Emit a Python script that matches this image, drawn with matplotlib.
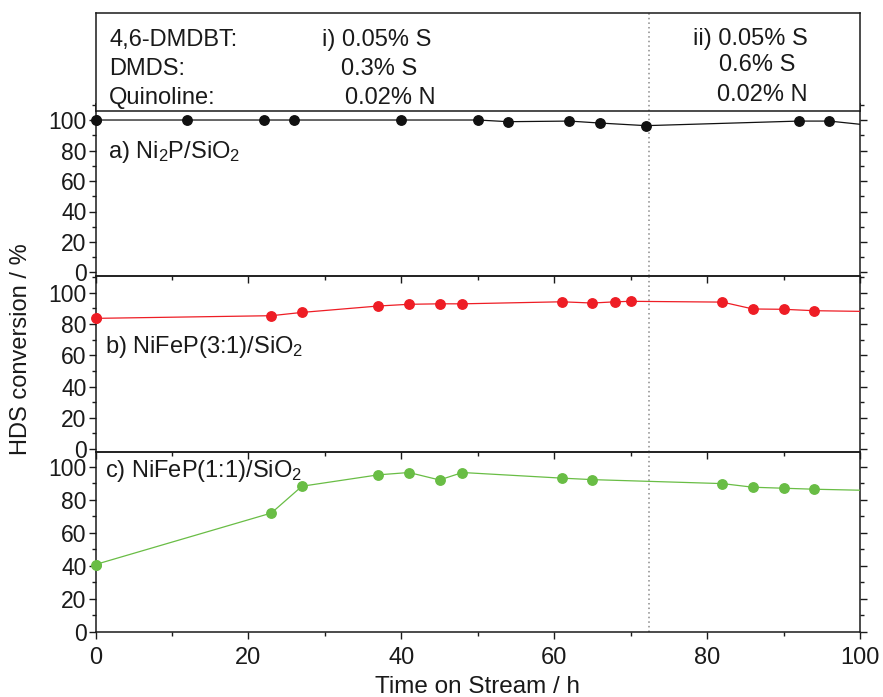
import matplotlib
matplotlib.use("Agg")
import matplotlib.pyplot as plt
from matplotlib.ticker import MultipleLocator

plt.rcParams['font.family'] = ['Liberation Sans', 'DejaVu Sans']
plt.rcParams['mathtext.default'] = 'regular'

W, H = 883, 697

# Time on stream (h) and HDS conversion (%) for each catalyst
time_ni2p = [0, 12, 22, 26, 40, 50, 54, 62, 66, 72, 92, 96, 104]
hds_ni2p = [100, 100, 100, 100, 100, 100, 98.9, 99.3, 98.0, 96.3, 99.3, 99.3, 95.1]

time_nifep31 = [0, 23, 27, 37, 41, 45, 48, 61, 65, 68, 70, 82, 86, 90, 94, 104]
hds_nifep31 = [83.6, 85.3, 87.4, 91.5, 92.6, 92.9, 92.9, 94.2, 93.4, 94.2, 94.5,
               94.0, 89.6, 89.4, 88.5, 87.8]

time_nifep11 = [0, 23, 27, 37, 41, 45, 48, 61, 65, 82, 86, 90, 94, 104]
hds_nifep11 = [40.8, 71.9, 88.1, 95.0, 96.4, 91.9, 96.4, 93.0, 92.1, 89.7, 87.5,
               86.9, 86.3, 85.3]

# Feed change between condition i) and ii)
feed_switch = 72.4

panel_labels = ['a) Ni$_2$P/SiO$_2$',
                'b) NiFeP(3:1)/SiO$_2$',
                'c) NiFeP(1:1)/SiO$_2$']
label_pos = [(1.6, 75.0), (1.3, 61.3), (1.3, 93.8)]
colors = ['#111111', '#ee1d25', '#69bd45']
ylims = [(-2.3, 110.5), (-1.9, 110.7), (0, 108.8)]

feed_rows = ['4,6-DMDBT:', 'DMDS:', 'Quinoline:']
feed_i = ['i) 0.05% S', '0.3% S', '0.02% N']
feed_ii = ['ii) 0.05% S', '0.6% S', '0.02% N']


def rect(x0, y0, x1, y1):
    return [x0 / W, 1 - y1 / H, (x1 - x0) / W, (y1 - y0) / H]


fig = plt.figure(figsize=(W / 100, H / 100), dpi=100)
fig.patch.set_facecolor('white')

x0, x1 = 95.5, 860
rows = [(104, 276), (276, 452), (452, 632)]
series = [(time_ni2p, hds_ni2p), (time_nifep31, hds_nifep31),
          (time_nifep11, hds_nifep11)]

axes = []
for i, ((top, bot), (t, v)) in enumerate(zip(rows, series)):
    ax = fig.add_axes(rect(x0, top, x1, bot))
    ax.patch.set_visible(False)
    ax.plot(t, v, '-', color=colors[i], lw=0.9, marker='o', ms=6.8,
            markevery=list(range(len(t) - 1)), clip_on=True, zorder=3)
    # keep the first marker whole on the left spine
    ax.plot(t[:1], v[:1], 'o', color=colors[i], ms=6.8, clip_on=False, zorder=4)
    ax.axvline(feed_switch, color='#8a8a8a', lw=1.1, ls=(0, (1, 2)), zorder=1)
    ax.set_xlim(0, 100)
    ax.set_ylim(*ylims[i])
    ax.xaxis.set_major_locator(MultipleLocator(20))
    ax.xaxis.set_minor_locator(MultipleLocator(10))
    ax.yaxis.set_major_locator(MultipleLocator(20))
    ax.yaxis.set_minor_locator(MultipleLocator(10))
    ax.tick_params(which='both', direction='out', left=True, right=True,
                   top=False, bottom=True, width=1.0, labelsize=16.5, pad=1.5,
                   colors='#1a1a1a')
    ax.tick_params(which='major', length=5)
    ax.tick_params(which='minor', length=3)
    ax.set_yticks([0, 20, 40, 60, 80, 100])
    for s in ax.spines.values():
        s.set_linewidth(1.1)
        s.set_color('#1a1a1a')
    if i < 2:
        ax.tick_params(axis='x', labelbottom=False)
    ax.text(*label_pos[i], panel_labels[i], fontsize=17, ha='left',
            va='baseline', color='#1a1a1a')
    axes.append(ax)

axes[-1].tick_params(axis='x', pad=6, labelsize=17)
axes[-1].set_xlabel('Time on Stream / h', fontsize=17.5, color='#1a1a1a')
axes[-1].xaxis.label.set_verticalalignment('baseline')
axes[-1].xaxis.set_label_coords(0.5, (632 - 693) / 180)

fig.text(21.5 / W, 1 - 349 / H, 'HDS conversion / %', rotation=90,
         ha='center', va='center', fontsize=17, color='#1a1a1a')

# Feed composition box above the panels
box = fig.add_axes(rect(x0, 13, x1, 111))
box.set_xlim(0, 100)
box.set_ylim(0, 1)
box.set_xticks([])
box.set_yticks([])
box.set_facecolor('white')
for s in box.spines.values():
    s.set_linewidth(1.1)
    s.set_color('#1a1a1a')
box.axvline(feed_switch, color='#8a8a8a', lw=1.1, ls=(0, (1, 2)))

base_left = [46, 75, 104]
base_right = [45, 71, 101]
fx = lambda px: (px - x0) / (x1 - x0)
fy = lambda py: (111 - py) / 98
left_i = [322, 341, 345]
left_ii = [693, 719, 717]
for r in range(3):
    box.text(fx(109), fy(base_left[r]), feed_rows[r], transform=box.transAxes,
             fontsize=17, va='baseline', ha='left', color='#1a1a1a')
    box.text(fx(left_i[r]), fy(base_left[r]), feed_i[r], transform=box.transAxes,
             fontsize=17, va='baseline', ha='left', color='#1a1a1a')
    box.text(fx(left_ii[r]), fy(base_right[r]), feed_ii[r],
             transform=box.transAxes, fontsize=17, va='baseline', ha='left',
             color='#1a1a1a')

fig.savefig('out.png', dpi=100)
